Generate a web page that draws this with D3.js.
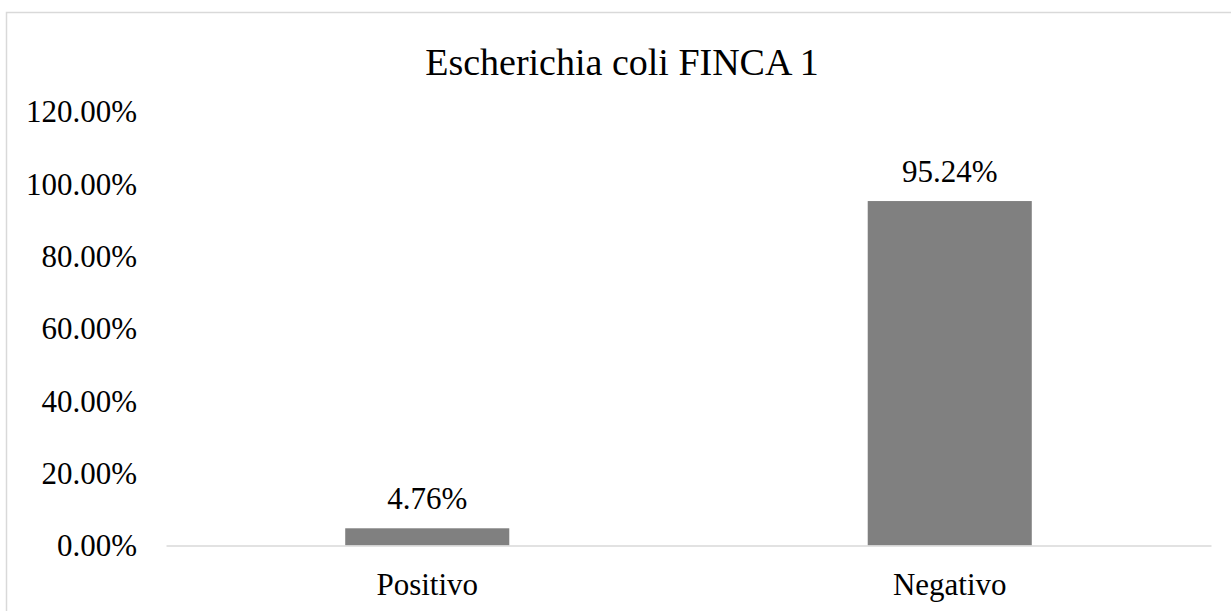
<!DOCTYPE html>
<html>
<head>
<meta charset="utf-8">
<script src="https://cdn.jsdelivr.net/npm/d3@7"></script>
<style>
  html, body { margin: 0; padding: 0; background: #fff; }
  svg { display: block; }
  text { font-family: "Liberation Serif", "Times New Roman", serif; fill: #000; }
</style>
</head>
<body>
<svg id="chart" width="1231" height="611"></svg>
<script>
const categories = ["Positivo", "Negativo"];
const values = [0.0476, 0.9524];
const valueLabels = ["4.76%", "95.24%"];
const yTicks = [0, 0.2, 0.4, 0.6, 0.8, 1.0, 1.2];
const title = "Escherichia coli FINCA 1";

const svg = d3.select("#chart");
const W = 1231, H = 611;
const m = { left: 166, right: 1211, top: 111.5, bottom: 545.5 };

// chart border
svg.append("rect")
  .attr("x", 6.5).attr("y", 12.5)
  .attr("width", W + 20).attr("height", H + 20)
  .attr("fill", "#fff").attr("stroke", "#d9d9d9").attr("stroke-width", 1.5);

const x = d3.scaleBand().domain(categories).range([m.left, m.right]).paddingInner(0.686).paddingOuter(0.343);
const y = d3.scaleLinear().domain([0, 1.2]).range([m.bottom, m.top]);

// title
svg.append("text")
  .attr("x", 622).attr("y", 75)
  .attr("text-anchor", "middle")
  .style("font-family", "'Liberation Serif', 'Times New Roman', serif")
  .style("font-size", "38px")
  .text(title);

// y axis (labels only)
const yAxis = d3.axisLeft(y).tickValues(yTicks).tickFormat(d3.format(".2%")).tickSize(0).tickPadding(0);
const gy = svg.append("g").attr("transform", "translate(137,0)").call(yAxis);
gy.select(".domain").remove();
gy.selectAll("text")
  .style("font-family", "'Liberation Serif', 'Times New Roman', serif")
  .style("font-size", "31px").attr("fill", "#000")
  .attr("dy", "0.33em");

// bars
svg.selectAll("rect.bar").data(values).join("rect")
  .attr("class", "bar")
  .attr("x", (d, i) => x(categories[i]))
  .attr("width", x.bandwidth())
  .attr("y", d => y(d))
  .attr("height", d => y(0) - y(d))
  .attr("fill", "#808080");

// baseline / x axis
const xAxis = d3.axisBottom(x).tickSize(0).tickPadding(0);
const gx = svg.append("g").attr("transform", `translate(0,${y(0)})`).call(xAxis);
gx.select(".domain").attr("stroke", "#d9d9d9").attr("stroke-width", 1.5);
gx.selectAll("text")
  .style("font-family", "'Liberation Serif', 'Times New Roman', serif")
  .style("font-size", "31px").attr("fill", "#000")
  .attr("dy", null).attr("y", 49.5);

// value labels
svg.selectAll("text.vlabel").data(values).join("text")
  .attr("class", "vlabel")
  .attr("x", (d, i) => x(categories[i]) + x.bandwidth() / 2)
  .attr("y", d => y(d) - 19)
  .attr("text-anchor", "middle")
  .style("font-family", "'Liberation Serif', 'Times New Roman', serif")
  .style("font-size", "31px")
  .text((d, i) => valueLabels[i]);
</script>
</body>
</html>
